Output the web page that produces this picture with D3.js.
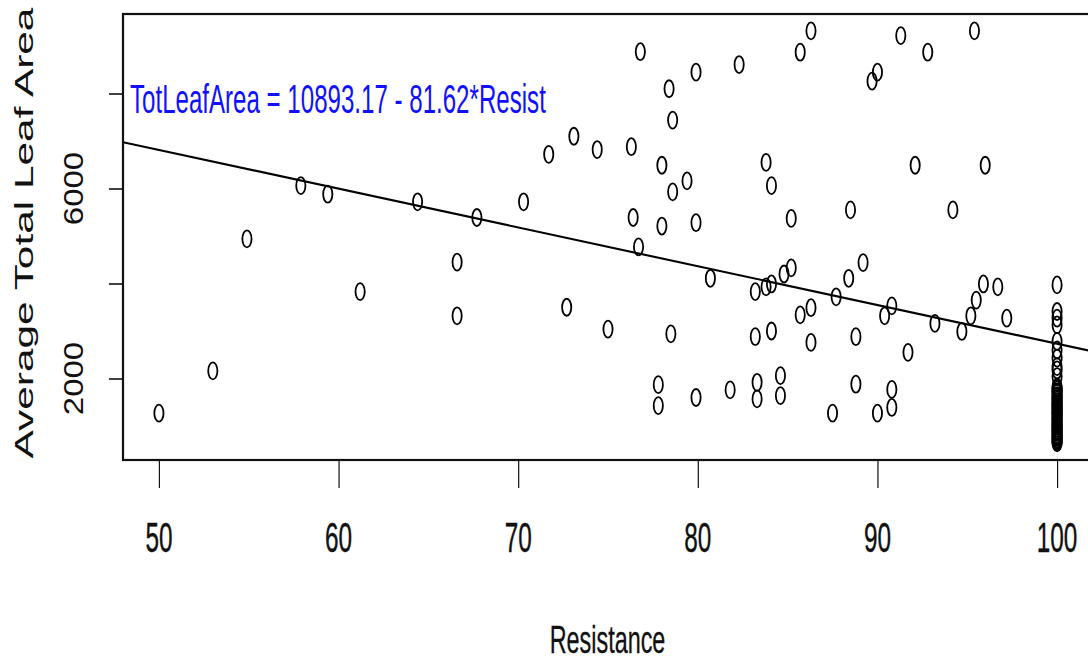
<!DOCTYPE html>
<html>
<head>
<meta charset="utf-8">
<script src="https://cdn.jsdelivr.net/npm/d3@7"></script>
<style>
  html, body { margin: 0; padding: 0; background: #fff; }
  svg { display: block; }
</style>
</head>
<body>
<svg id="chart" width="1088" height="662"></svg>
<script>
// ---- data ----
const resistance = [
  50.0, 53.0, 54.9, 57.9, 59.4, 61.2, 64.4, 66.6, 66.6, 67.7,
  70.3, 71.7, 72.7, 73.1, 74.4, 75.0, 76.3, 76.4, 76.7, 76.8,
  77.8, 77.8, 78.0, 78.0, 78.4, 78.5, 78.6, 78.6, 79.4, 79.9,
  79.9, 79.9, 80.7, 81.8, 82.3, 83.2, 83.2, 83.3, 83.3, 83.8,
  83.8, 84.1, 84.1, 84.1, 84.6, 84.6, 84.8, 85.2, 85.2, 85.7,
  85.7, 86.3, 86.3, 86.3, 87.5, 87.7, 88.4, 88.5, 88.8, 88.8,
  89.2, 89.7, 90.0, 90.0, 90.4, 90.8, 90.8, 90.8, 91.3, 91.7,
  92.1, 92.8, 93.2, 94.2, 94.7, 95.2, 95.4, 95.5, 95.9, 96.0,
  96.7, 97.2,
  100, 100, 100, 100, 100, 100, 100, 100, 100, 100,
  100, 100, 100, 100, 100, 100, 100, 100, 100, 100,
  100, 100, 100, 100, 100, 100, 100, 100, 100,
  100, 100, 100, 100, 100, 100, 100, 100, 100, 100,
  100, 100, 100, 100, 100, 100, 100, 100
];
const totLeafArea = [
  1270, 2160, 4940, 6060, 5880, 3830, 5720, 4450, 3320, 5390,
  5720, 6720, 3500, 7100, 6820, 3040, 6880, 5390, 4770, 8880,
  1870, 1430, 6490, 5210, 8100, 2940, 7440, 5930, 6160, 8450,
  5280, 1600, 4110, 1760, 8610, 3830, 2880, 1920, 1570, 6550,
  3930, 3990, 6060, 3000, 2060, 1640, 4200, 5370, 4330, 8870,
  3340, 9320, 3490, 2760, 1270, 3720, 4110, 5550, 2880, 1880,
  4440, 8260, 8450, 1270, 3320, 3530, 1770, 1390, 9220, 2550,
  6490, 8870, 3160, 5550, 2990, 3320, 9320, 3650, 3990, 6490,
  3930, 3270,
  3970, 3410, 3270, 3130, 2780, 2600, 2430, 2250, 2180, 2040,
  1820, 1760, 1690, 1610, 1550, 1470, 1420, 1350, 1280, 1230,
  1150, 1080, 1020, 950, 890, 820, 760, 700, 645,
  1790, 1720, 1640, 1580, 1510, 1440, 1380, 1320, 1250, 1190,
  1120, 1050, 990, 920, 860, 790, 730, 670
];
const fitIntercept = 10893.17;
const fitSlope = -81.62;
const xTicks = [50, 60, 70, 80, 90, 100];
const yTicks = [2000, 4000, 6000, 8000];
const yTickLabels = [2000, 6000];
const xDomain = [48, 102];
const yDomain = [284, 9674];
const equationText = "TotLeafArea = 10893.17 - 81.62*Resist";
const xTitle = "Resistance";
const yTitle = "Average Total Leaf Area";

// ---- layout ----
(function () {
const svg = d3.select("#chart");
const pL = 123, pR = 1093, pT = 14, pB = 460;
const x = d3.scaleLinear().domain(xDomain).range([pL, pR]);
const y = d3.scaleLinear().domain(yDomain).range([pB, pT]);
const FONT = "'Liberation Sans', Arial, Helvetica, sans-serif";

svg.append("rect").attr("width", 1088).attr("height", 662).attr("fill", "#fff");

svg.append("defs").append("clipPath").attr("id", "plotclip")
  .append("rect").attr("x", pL).attr("y", pT)
  .attr("width", pR - pL).attr("height", pB - pT);

// axes (tick marks)
const xAxis = svg.append("g").attr("transform", `translate(0,${pB})`)
  .call(d3.axisBottom(x).tickValues(xTicks).tickSize(28).tickFormat(""));
xAxis.select(".domain").remove();
xAxis.selectAll(".tick line").attr("stroke", "#111").attr("stroke-width", 1.2);

const yAxis = svg.append("g").attr("transform", `translate(${pL},0)`)
  .call(d3.axisLeft(y).tickValues(yTicks).tickSize(14).tickFormat(""));
yAxis.select(".domain").remove();
yAxis.selectAll(".tick line").attr("stroke", "#111").attr("stroke-width", 1.6);

// x tick labels
svg.append("g").selectAll("text").data(xTicks).join("text")
  .attr("transform", d => `translate(${x(d)},551.5) scale(0.58,1)`)
  .attr("text-anchor", "middle")
  .attr("font-family", FONT).attr("font-size", 42)
  .attr("fill", "#111").attr("stroke", "#111").attr("stroke-width", 0.4)
  .text(d => d);

// y tick labels (rotated)
svg.append("g").selectAll("text").data(yTickLabels).join("text")
  .attr("transform", d => `translate(83,${y(d)}) rotate(-90) scale(1,0.85)`)
  .attr("text-anchor", "middle")
  .attr("font-family", FONT).attr("font-size", 33)
  .attr("fill", "#111")
  .text(d => d);

// axis titles
svg.append("text")
  .attr("transform", `translate(607.5,653) scale(0.6,1)`)
  .attr("text-anchor", "middle")
  .attr("font-family", FONT).attr("font-size", 39)
  .attr("fill", "#111").attr("stroke", "#111").attr("stroke-width", 0.3)
  .text(xTitle);

svg.append("text")
  .attr("transform", `translate(33,233) rotate(-90) scale(1,0.59)`)
  .attr("text-anchor", "middle")
  .attr("font-family", FONT).attr("font-size", 42.4)
  .attr("fill", "#111")
  .text(yTitle);

// plot contents
const plot = svg.append("g").attr("clip-path", "url(#plotclip)");

// regression line
const fitLine = d3.line().x(d => x(d)).y(d => y(fitIntercept + fitSlope * d));
plot.append("path")
  .attr("d", fitLine(xDomain))
  .attr("fill", "none").attr("stroke", "#000").attr("stroke-width", 2.1);

// points
const pts = resistance.map((r, i) => ({ r, v: totLeafArea[i] }));
plot.append("g").selectAll("ellipse").data(pts).join("ellipse")
  .attr("cx", d => x(d.r)).attr("cy", d => y(d.v))
  .attr("rx", 4.6).attr("ry", 8.5)
  .attr("fill", "none").attr("stroke", "#000").attr("stroke-width", 1.8);

// equation text
svg.append("text")
  .attr("transform", `translate(130,113) scale(0.595,1)`)
  .attr("font-family", FONT).attr("font-size", 40.5)
  .attr("fill", "#1010ff")
  .text(equationText);

// frame
svg.append("rect")
  .attr("x", pL).attr("y", pT)
  .attr("width", pR - pL).attr("height", pB - pT)
  .attr("fill", "none").attr("stroke", "#111").attr("stroke-width", 2.2);
})();
</script>
</body>
</html>
